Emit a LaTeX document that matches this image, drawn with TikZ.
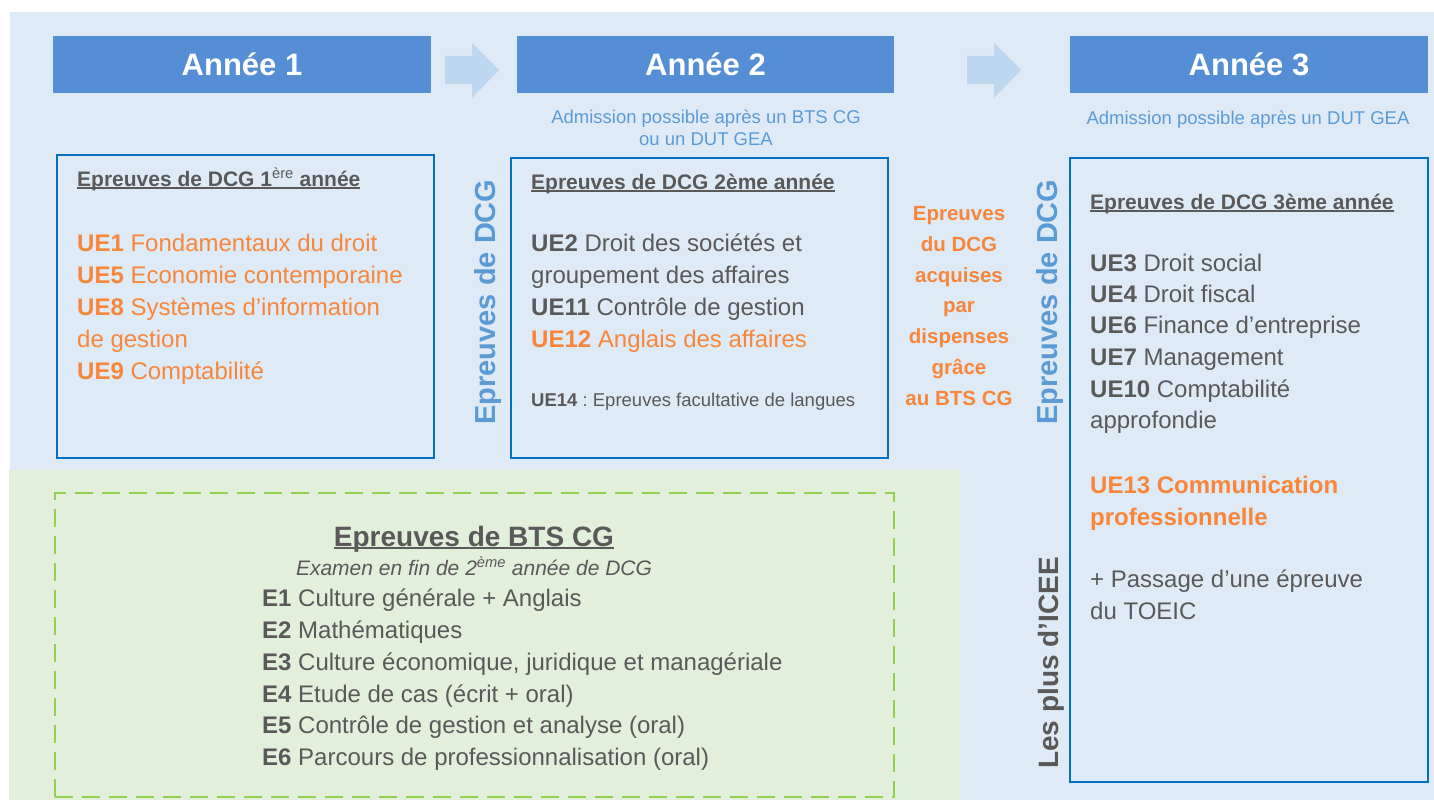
\documentclass[tikz,border=0pt]{standalone}
\usepackage{fontspec}
\setmainfont{Liberation Sans}
\usepackage{tikz}
\usetikzlibrary{positioning}

\definecolor{bgblue}{HTML}{DEEBF7}
\definecolor{hdrblue}{HTML}{558ED5}
\definecolor{arrblue}{HTML}{BDD7EE}
\definecolor{boxblue}{HTML}{0070C0}
\definecolor{txtblue}{HTML}{5B9BD5}
\definecolor{orng}{HTML}{F8853A}
\definecolor{dgray}{HTML}{595959}
\definecolor{greenbg}{HTML}{E2EFDA}
\definecolor{greendash}{HTML}{92D050}

% underline at a fixed depth
\newcommand\undl[2][1.5pt]{\setbox0=\hbox{#2}\rlap{\rule[-2.6pt]{\wd0}{#1}}\box0}

\begin{document}
\begin{tikzpicture}[x=1pt, y=-1pt,
    hdr/.style={fill=hdrblue, text=white, minimum width=#1, minimum height=57pt, inner sep=0pt, font=\fontsize{31}{36}\selectfont\bfseries},
    ubox/.style={draw=boxblue, line width=2.5pt, inner sep=0pt},
    dbox/.style={draw=greendash, line width=2.5pt, dash pattern=on 18pt off 9pt, inner sep=0pt},
    ttl/.style={anchor=base west, inner sep=0pt, text=dgray, font=\fontsize{21}{25}\selectfont\bfseries},
    item/.style={anchor=base west, inner sep=0pt, text=dgray, font=\fontsize{24}{28}\selectfont},
    oitem/.style={item, text=orng},
    small/.style={anchor=base west, inner sep=0pt, text=dgray, font=\fontsize{18.5}{22}\selectfont},
    adm/.style={anchor=base, inner sep=0pt, text=txtblue, font=\fontsize{18.5}{22}\selectfont},
    vert/.style={rotate=90, inner sep=0pt, font=\fontsize{29}{34}\selectfont\bfseries},
    mid/.style={align=center, inner sep=0pt, text=orng, font=\fontsize{20.5}{30.7}\selectfont\bfseries},
]
\useasboundingbox (0,0) rectangle (1434,800);
\fill[white] (0,0) rectangle (1434,800);
\fill[bgblue] (10,12) rectangle (1434,800);
\fill[greenbg] (9,470) rectangle (960,800);

% headers and arrows
\node[hdr=378pt] (y1) at (242,64.5) {Année 1};
\node[hdr=377pt] (y2) at (705.5,64.5) {Année 2};
\node[hdr=358pt] (y3) at (1249,64.5) {Année 3};
\fill[arrblue] (445,56) -- (472,56) -- (472,43) -- (499,70) -- (472,98) -- (472,84) -- (445,84) -- cycle;
\fill[arrblue] (967,56) -- (994,56) -- (994,43) -- (1021,70) -- (994,98) -- (994,84) -- (967,84) -- cycle;

\node[adm] (a2) at (706,123) {Admission possible après un BTS CG};
\node[adm] (a2b) at (706,145) {ou un DUT GEA};
\node[adm] (a3) at (1248,124) {Admission possible après un DUT GEA};

% year boxes
\node[ubox, minimum width=377pt, minimum height=303pt] (b1) at (245.5,306.5) {};
\node[ubox, minimum width=377pt, minimum height=300pt] (b2) at (699.5,308) {};
\node[ubox, minimum width=358pt, minimum height=624pt] (b3) at (1249,470) {};

% year 1
\node[ttl] (t1) at (77,186) {\undl{Epreuves de DCG 1{\mdseries\textsuperscript{ère}} année}};
\node[oitem] (u1) at (77,251) {\textbf{UE1} Fondamentaux du droit};
\node[oitem] (u5) at (77,283) {\textbf{UE5} Economie contemporaine};
\node[oitem] (u8) at (77,315) {\textbf{UE8} Systèmes d’information};
\node[oitem] (u8b) at (77,347) {de gestion};
\node[oitem] (u9) at (77,379) {\textbf{UE9} Comptabilité};

% year 2
\node[vert, text=txtblue] (v1) at (488,302) {Epreuves de DCG};
\node[ttl] (t2) at (531,189) {\undl{Epreuves de DCG 2ème année}};
\node[item] (u2) at (531,251) {\textbf{UE2} Droit des sociétés et};
\node[item] (u2b) at (531,283) {groupement des affaires};
\node[item] (u11) at (531,315) {\textbf{UE11} Contrôle de gestion};
\node[oitem] (u12) at (531,347) {\textbf{UE12} Anglais des affaires};
\node[small] (u14) at (531,406) {\textbf{UE14}\ :\ Epreuves facultative de langues};

\node[mid] (disp) at (959,306) {Epreuves\\du DCG\\acquises\\par\\dispenses\\grâce\\au BTS CG};

% year 3
\node[vert, text=txtblue] (v2) at (1050,302) {Epreuves de DCG};
\node[vert, text=dgray, font=\fontsize{28}{33}\selectfont\bfseries] (v3) at (1051,663) {Les plus d'ICEE};
\node[ttl] (t3) at (1090,209) {\undl{Epreuves de DCG 3ème année}};
\node[item] (u3) at (1090,271) {\textbf{UE3} Droit social};
\node[item] (u4) at (1090,302) {\textbf{UE4} Droit fiscal};
\node[item] (u6) at (1090,333) {\textbf{UE6} Finance d’entreprise};
\node[item] (u7) at (1090,365) {\textbf{UE7} Management};
\node[item] (u10) at (1090,397) {\textbf{UE10} Comptabilité};
\node[item] (u10b) at (1090,428) {approfondie};
\node[oitem, font=\fontsize{24}{28}\selectfont\bfseries] (u13) at (1090,493) {UE13 Communication};
\node[oitem, font=\fontsize{24}{28}\selectfont\bfseries] (u13b) at (1090,525) {professionnelle};
\node[item] (toeic) at (1090,587) {+ Passage d’une épreuve};
\node[item] (toeicb) at (1090,619) {du TOEIC};

% BTS CG
\node[dbox, minimum width=839pt, minimum height=304pt] (g) at (474.5,645) {};
\node[anchor=base, inner sep=0pt, text=dgray, font=\fontsize{28}{33}\selectfont\bfseries] (gt) at (474,546) {\undl[2pt]{Epreuves de BTS CG}};
\node[anchor=base, inner sep=0pt, text=dgray, font=\fontsize{21}{25}\selectfont\itshape] (ge) at (474,575) {Examen en fin de 2\textsuperscript{ème} année de DCG};
\node[item] (e1) at (262,606) {\textbf{E1} Culture générale + Anglais};
\node[item] (e2) at (262,638) {\textbf{E2} Mathématiques};
\node[item] (e3) at (262,670) {\textbf{E3} Culture économique, juridique et managériale};
\node[item] (e4) at (262,702) {\textbf{E4} Etude de cas (écrit + oral)};
\node[item] (e5) at (262,733) {\textbf{E5} Contrôle de gestion et analyse (oral)};
\node[item] (e6) at (262,765) {\textbf{E6} Parcours de professionnalisation (oral)};
\end{tikzpicture}
\end{document}
